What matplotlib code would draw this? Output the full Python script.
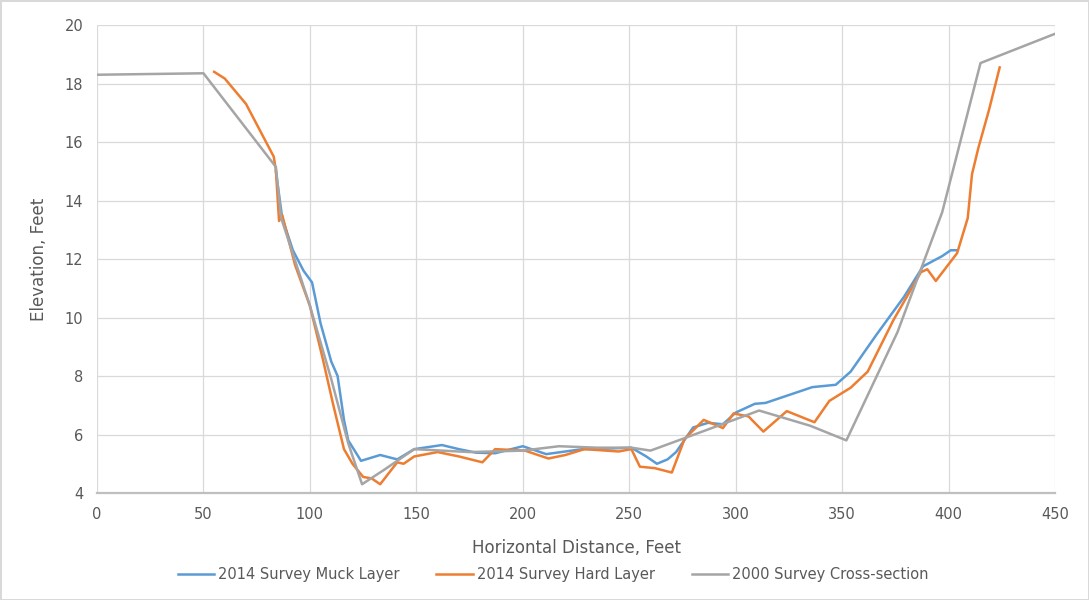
import matplotlib.pyplot as plt
import matplotlib.font_manager as fm

# cross-section profiles (distance in feet, elevation in feet)
muck_x = [84, 87, 92, 97, 101, 105, 110, 113, 116, 118, 124, 133, 141, 149, 162, 170, 178, 187,
          200, 211, 228, 240, 251, 258, 263, 268, 272, 280, 287, 294, 300, 309, 314, 325, 336, 347,
          354, 366, 379, 388, 397, 401, 404]
muck_y = [15.0, 13.4, 12.3, 11.6, 11.2, 9.8, 8.5, 8.0, 6.5, 5.8, 5.1, 5.3, 5.15, 5.5, 5.64, 5.5,
          5.38, 5.36, 5.6, 5.33, 5.5, 5.52, 5.55, 5.25, 5.0, 5.15, 5.4, 6.24, 6.4, 6.35, 6.75, 7.05,
          7.08, 7.35, 7.62, 7.7, 8.15, 9.4, 10.7, 11.75, 12.1, 12.3, 12.3]

hard_x = [55, 60, 70, 83, 84, 85.5, 87, 93, 100, 106, 111, 116, 120, 125, 129, 133, 141, 144, 149,
          160, 170, 181, 187, 201, 212, 220, 229, 245, 251, 255, 262, 270, 276, 285, 294, 299, 306,
          313, 324, 337, 344, 354, 362, 374, 387, 390, 394, 404, 409, 411, 414, 419, 424]
hard_y = [18.4, 18.17, 17.3, 15.5, 15.05, 13.3, 13.5, 11.8, 10.4, 8.6, 7.0, 5.5, 5.0, 4.55, 4.5,
          4.3, 5.05, 5.0, 5.25, 5.4, 5.25, 5.05, 5.5, 5.45, 5.18, 5.3, 5.5, 5.42, 5.5, 4.9, 4.85,
          4.7, 5.85, 6.5, 6.22, 6.72, 6.62, 6.1, 6.8, 6.42, 7.15, 7.6, 8.15, 9.9, 11.55, 11.65, 11.25,
          12.2, 13.4, 14.9, 15.8, 17.1, 18.55]

old_x = [0, 50, 84, 86.5, 100, 110, 118, 124.5, 135, 149, 175, 200, 217, 235, 251, 260, 275, 311,
         335, 352, 376, 397, 415, 450]
old_y = [18.3, 18.35, 15.15, 13.4, 10.4, 7.9, 5.7, 4.3, 4.8, 5.5, 5.4, 5.45, 5.6, 5.55, 5.55, 5.45,
         5.85, 6.82, 6.3, 5.8, 9.5, 13.6, 18.7, 19.7]

x_ticks = list(range(0, 451, 50))
y_ticks = list(range(4, 21, 2))

names = [f.name for f in fm.fontManager.ttflist]
family = 'Liberation Sans Narrow' if 'Liberation Sans Narrow' in names else 'DejaVu Sans'
plt.rcParams['font.family'] = [family, 'DejaVu Sans']

text_color = '#595959'

fig = plt.figure(figsize=(10.89, 6), dpi=100)
fig.patch.set_edgecolor('#D9D9D9')
fig.patch.set_linewidth(2)
ax = fig.add_axes([0.0891, 0.1783, 0.8797, 0.78])

ax.plot(muck_x, muck_y, color='#5B9BD5', lw=1.8, label='2014 Survey Muck Layer', zorder=3)
ax.plot(hard_x, hard_y, color='#ED7D31', lw=1.8, label='2014 Survey Hard Layer', zorder=4)
ax.plot(old_x, old_y, color='#A5A5A5', lw=1.8, label='2000 Survey Cross-section', zorder=5)

ax.set_xlim(0, 450)
ax.set_ylim(4, 20)
ax.set_xticks(x_ticks)
ax.set_yticks(y_ticks)
ax.grid(True, color='#D9D9D9', lw=0.9)
ax.set_axisbelow(True)
for side in ['top', 'right', 'left']:
    ax.spines[side].set_visible(False)
ax.spines['bottom'].set_color('#BFBFBF')
ax.spines['bottom'].set_linewidth(1.6)
ax.tick_params(length=0, labelsize=10.5, colors=text_color, pad=10)

ax.set_xlabel('Horizontal Distance, Feet', fontsize=12, color=text_color, labelpad=12)
ax.set_ylabel('Elevation, Feet', fontsize=12, color=text_color, labelpad=12)

fig.legend(*ax.get_legend_handles_labels(), loc='center', bbox_to_anchor=(0.508, 0.043),
           ncol=3, frameon=False, fontsize=10.5, labelcolor=text_color, handlelength=2.5,
           columnspacing=2.5, handletextpad=0.3)

fig.savefig('out.png', dpi=100, edgecolor=fig.get_edgecolor())
